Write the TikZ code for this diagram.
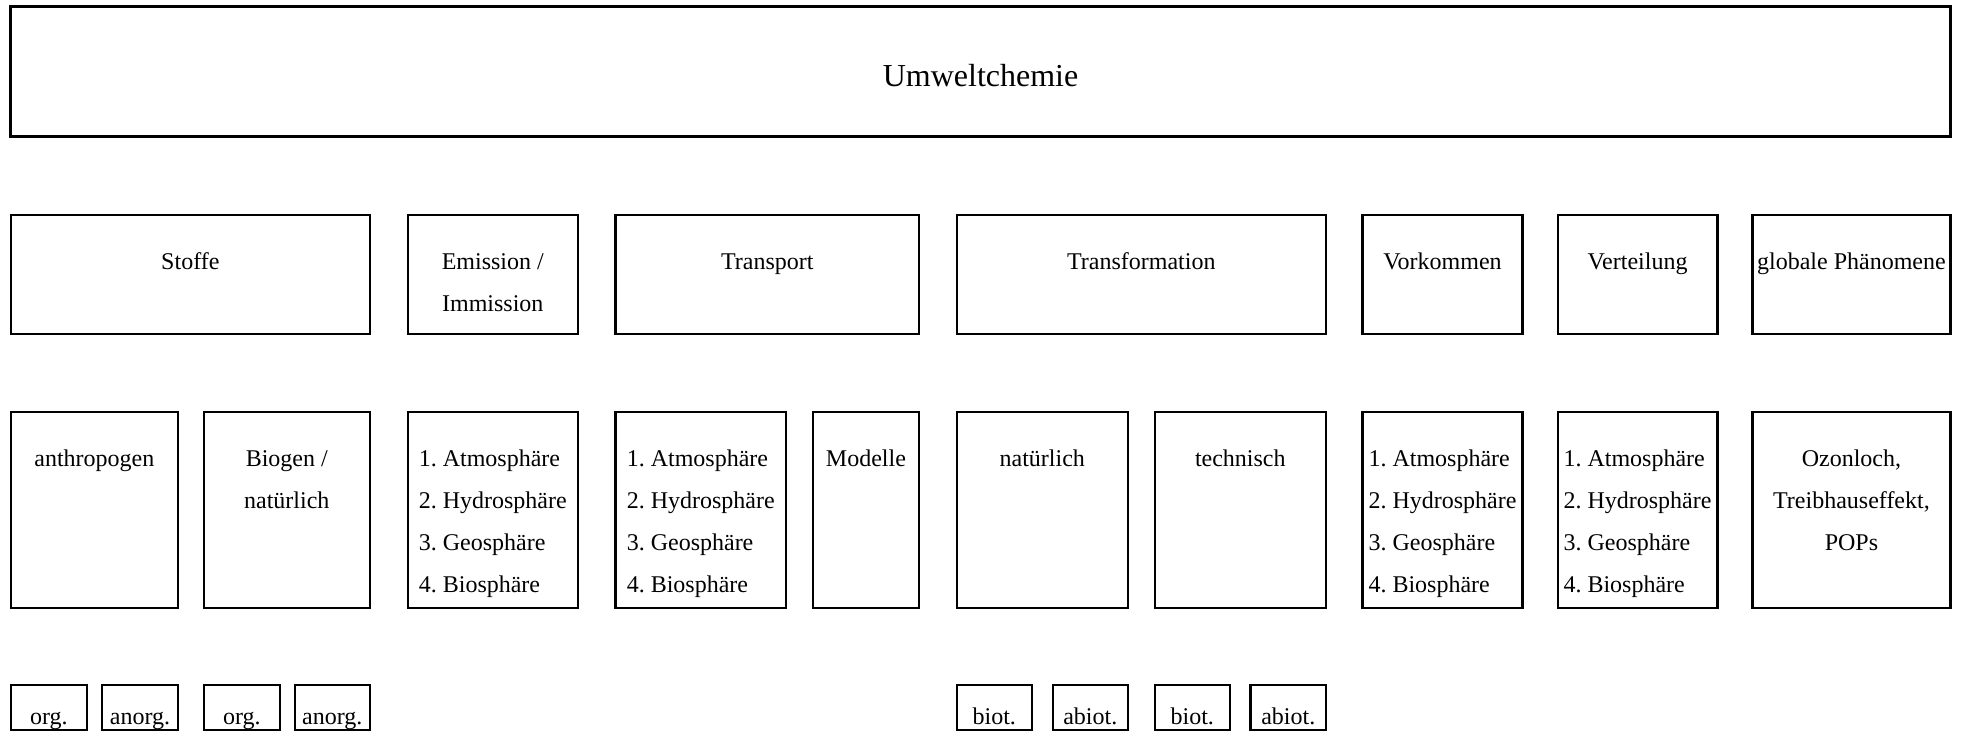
\documentclass[tikz,border=0pt]{standalone}
\usepackage{fontspec}
\setmainfont{Liberation Serif}
\frenchspacing
\tikzset{
  box/.style={draw, line width=1.1pt, inner sep=0pt, outer sep=0pt},
  titlebox/.style={box, line width=1.4pt},
  lbl/.style={inner sep=0pt, outer sep=0pt, anchor=north, align=center, font=\fontsize{12pt}{21pt}\selectfont},
  lst/.style={lbl, align=left},
  ttl/.style={lbl, font=\fontsize{16pt}{20pt}\selectfont},
}
% name, x0, x1, y0, y1 (pixel units, y downwards)
\newcommand\ubox[6][box]{\node[#1, minimum width={(#4-#3)*0.5pt}, minimum height={(#6-#5)*0.5pt}] (#2) at ({(#3+#4)/2},{(#5+#6)/2}) {};}
\newcommand\fs{\rule{0pt}{10pt}}
\begin{document}
\begin{tikzpicture}[x=0.5pt,y=-0.5pt]
\useasboundingbox (0,0) rectangle (1964,731);
% title
\ubox[titlebox]{top}{10.7}{1950.4}{6.7}{136.7}
\node[ttl] (topt) at ([yshift=-27.95pt]top.north) {\rule{0pt}{12pt}Umweltchemie};
% row 2
\ubox{stoffe}{10.7}{370}{215}{334}
\ubox{emis}{407.6}{578}{215}{334}
\ubox{trans}{615.5}{919}{215}{334}
\ubox{transf}{956.6}{1326}{215}{334}
\ubox{vork}{1362.5}{1522.5}{215}{334}
\ubox{vert}{1557.6}{1717.4}{215}{334}
\ubox{glob}{1752.5}{1950.4}{215}{334}
\node[lbl] (stoffet) at ([yshift=-17.5pt]stoffe.north) {\fs Stoffe};
\node[lbl] (emist) at ([yshift=-17.5pt]emis.north) {\fs Emission /\\Immission};
\node[lbl] (transt) at ([yshift=-17.5pt]trans.north) {\fs Transport};
\node[lbl] (transft) at ([yshift=-17.5pt]transf.north) {\fs Transformation};
\node[lbl] (vorkt) at ([yshift=-17.5pt]vork.north) {\fs Vorkommen};
\node[lbl] (vertt) at ([yshift=-17.5pt]vert.north) {\fs Verteilung};
\node[lbl] (globt) at ([yshift=-17.5pt]glob.north) {\fs globale Phänomene};
% row 3
\ubox{anth}{10.7}{178}{411.7}{608.3}
\ubox{biog}{203.6}{370}{411.7}{608.3}
\ubox{emisl}{407.6}{578}{411.7}{608.3}
\ubox{transl}{615.5}{786}{411.7}{608.3}
\ubox{mod}{812.8}{919}{411.7}{608.3}
\ubox{nat}{956.6}{1128}{411.7}{608.3}
\ubox{tech}{1154.6}{1326}{411.7}{608.3}
\ubox{vorkl}{1362.5}{1522.5}{411.7}{608.3}
\ubox{vertl}{1557.6}{1717.4}{411.7}{608.3}
\ubox{ozon}{1752.5}{1950.4}{411.7}{608.3}
\node[lbl] (antht) at ([yshift=-17.5pt]anth.north) {\fs anthropogen};
\node[lbl] (biogt) at ([yshift=-17.5pt]biog.north) {\fs Biogen /\\natürlich};
\node[lst] (emislt) at ([yshift=-17.5pt]emisl.north) {\fs 1. Atmosphäre\\2. Hydrosphäre\\3. Geosphäre\\4. Biosphäre};
\node[lst] (translt) at ([yshift=-17.5pt]transl.north) {\fs 1. Atmosphäre\\2. Hydrosphäre\\3. Geosphäre\\4. Biosphäre};
\node[lbl] (modt) at ([yshift=-17.5pt]mod.north) {\fs Modelle};
\node[lbl] (natt) at ([yshift=-17.5pt]nat.north) {\fs natürlich};
\node[lbl] (techt) at ([yshift=-17.5pt]tech.north) {\fs technisch};
\node[lst] (vorklt) at ([yshift=-17.5pt]vorkl.north) {\fs 1. Atmosphäre\\2. Hydrosphäre\\3. Geosphäre\\4. Biosphäre};
\node[lst] (vertlt) at ([yshift=-17.5pt]vertl.north) {\fs 1. Atmosphäre\\2. Hydrosphäre\\3. Geosphäre\\4. Biosphäre};
\node[lbl] (ozont) at ([yshift=-17.5pt]ozon.north) {\fs Ozonloch,\\Treibhauseffekt,\\POPs};
% row 4
\ubox{orga}{10.7}{87}{685}{730}
\ubox{anorga}{102}{178}{685}{730}
\ubox{orgb}{203.6}{280}{685}{730}
\ubox{anorgb}{294.6}{370}{685}{730}
\ubox{biota}{956.6}{1032}{685}{730}
\ubox{abiota}{1052.6}{1128}{685}{730}
\ubox{biotb}{1154.6}{1230}{685}{730}
\ubox{abiotb}{1250.5}{1326}{685}{730}
\node[lbl] (orgat) at ([yshift=-9.85pt]orga.north) {\fs org.};
\node[lbl] (anorgat) at ([yshift=-9.85pt]anorga.north) {\fs anorg.};
\node[lbl] (orgbt) at ([yshift=-9.85pt]orgb.north) {\fs org.};
\node[lbl] (anorgbt) at ([yshift=-9.85pt]anorgb.north) {\fs anorg.};
\node[lbl] (biotat) at ([yshift=-9.85pt]biota.north) {\fs biot.};
\node[lbl] (abiotat) at ([yshift=-9.85pt]abiota.north) {\fs abiot.};
\node[lbl] (biotbt) at ([yshift=-9.85pt]biotb.north) {\fs biot.};
\node[lbl] (abiotbt) at ([yshift=-9.85pt]abiotb.north) {\fs abiot.};
\end{tikzpicture}
\end{document}
